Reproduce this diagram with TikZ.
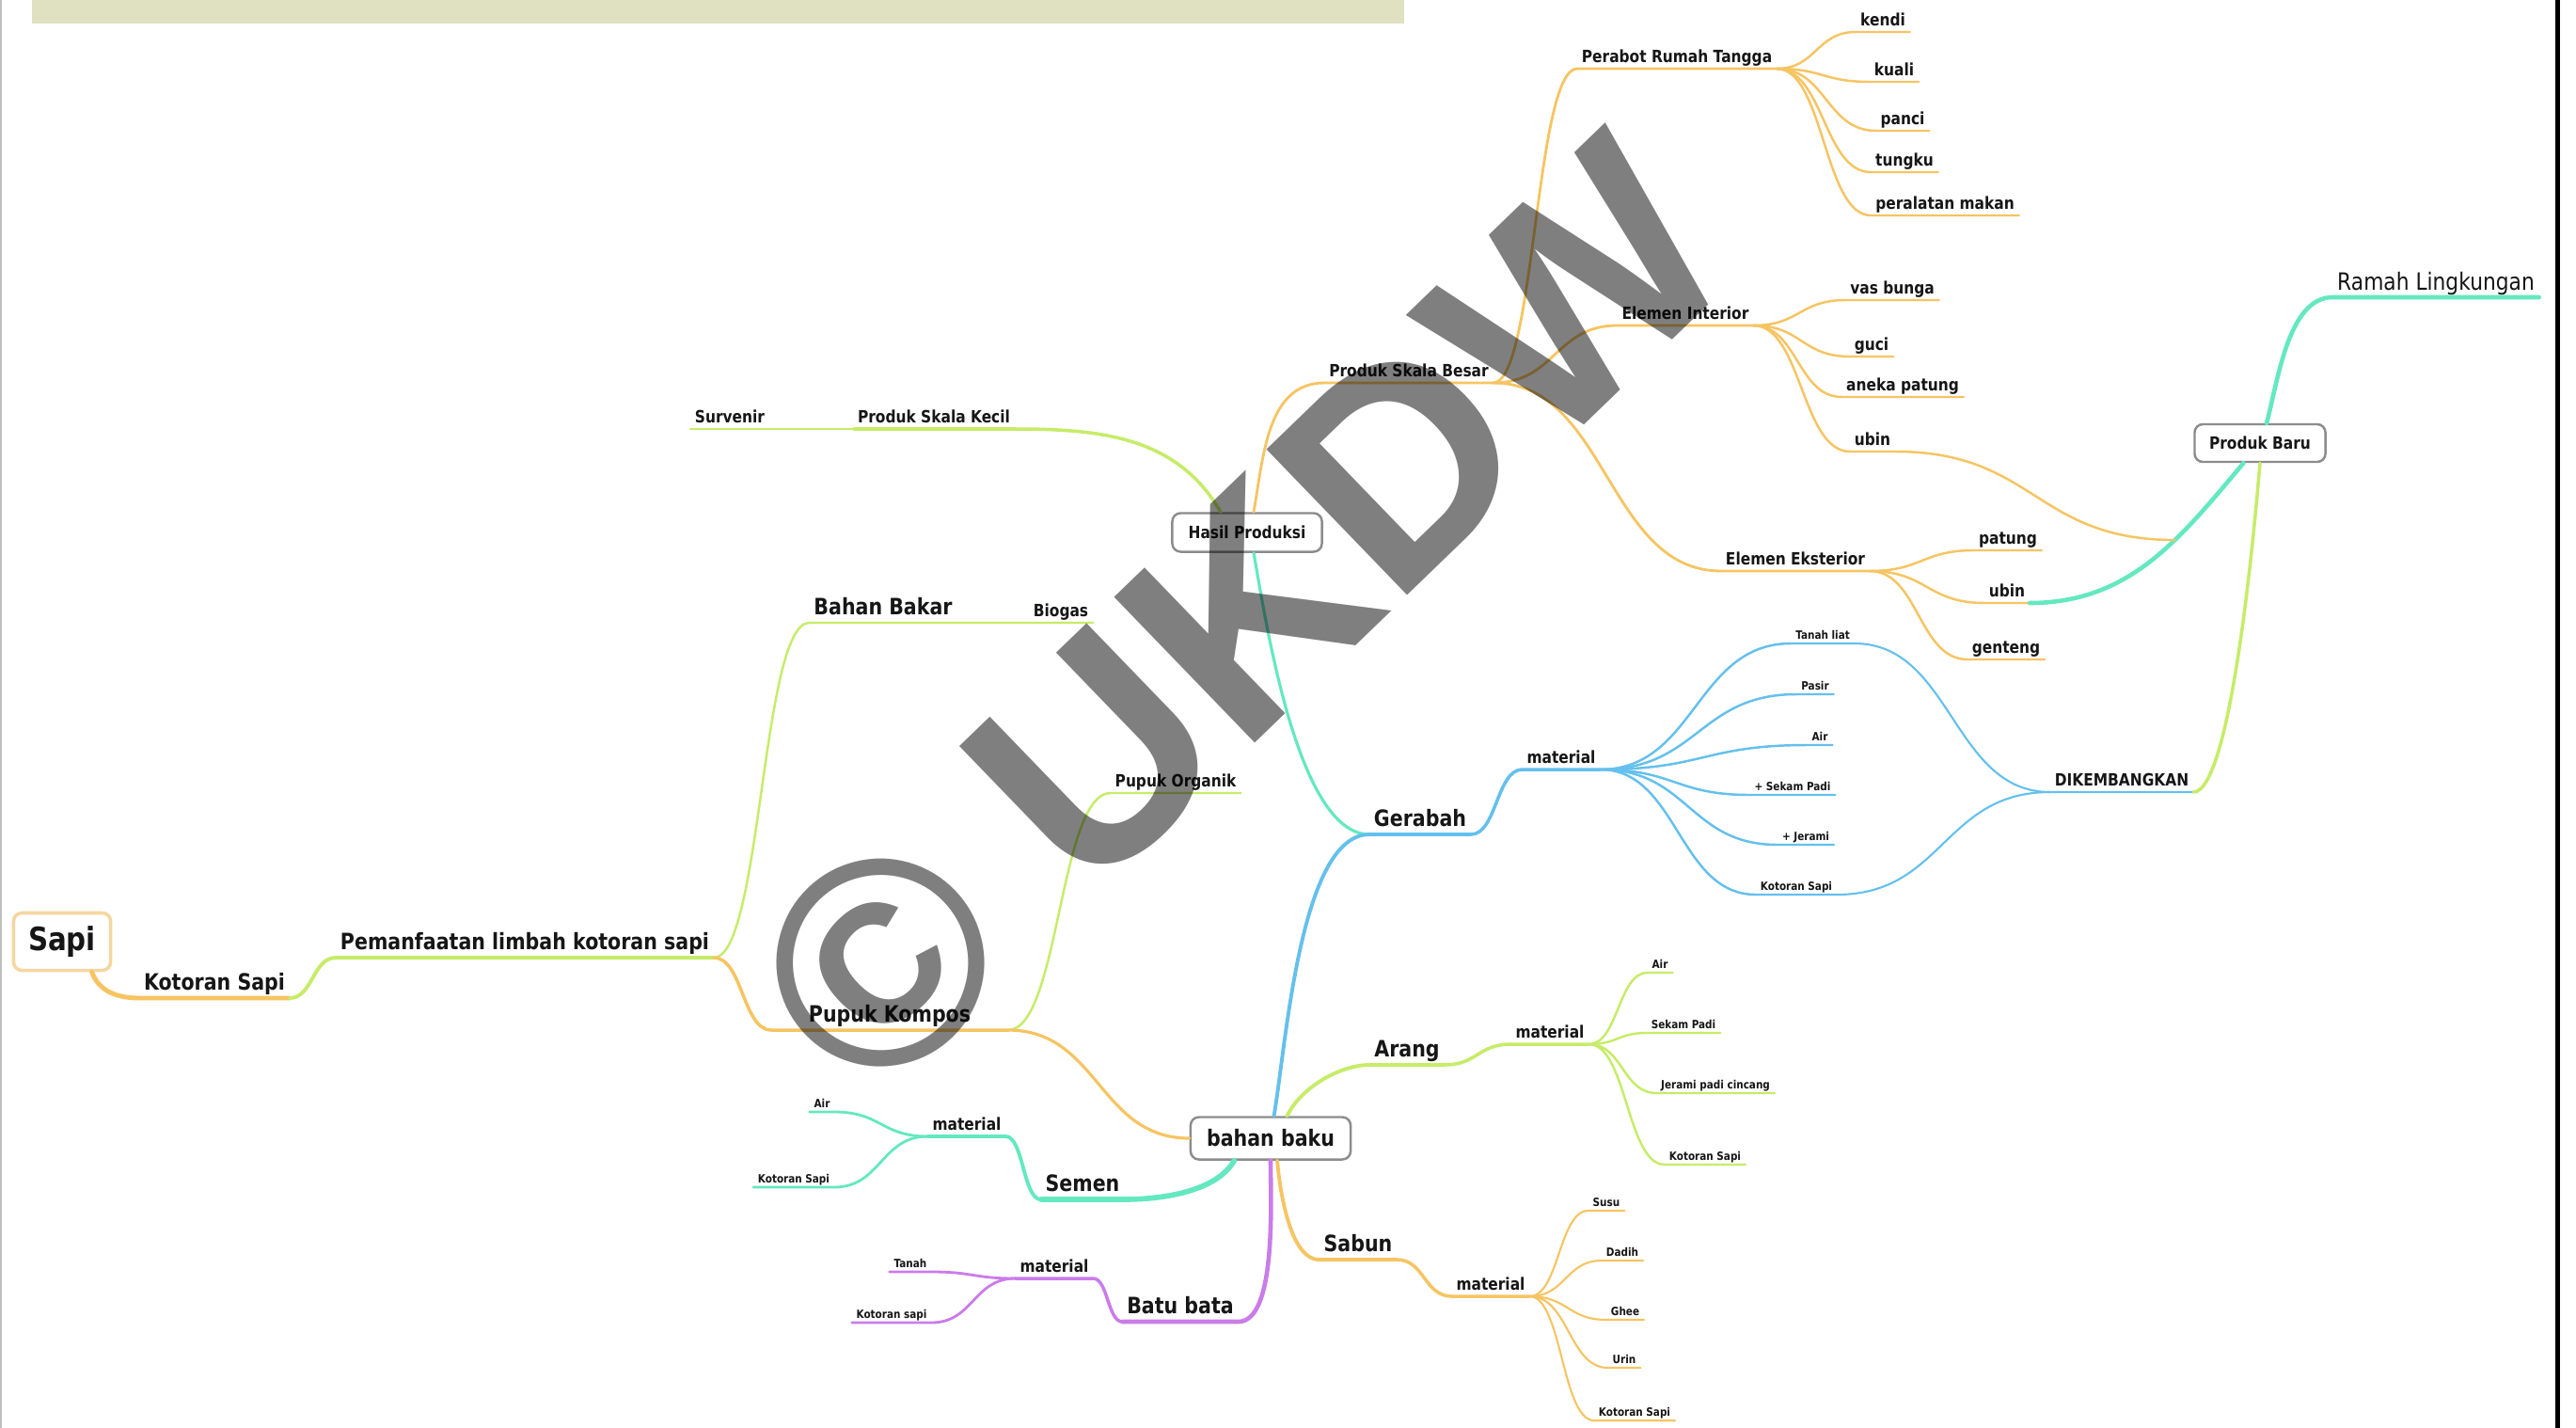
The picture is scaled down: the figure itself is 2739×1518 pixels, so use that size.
\documentclass[tikz,border=0pt]{standalone}
\usepackage{fontspec}
\newfontfamily\mmfont{DejaVu Sans}[FakeStretch=0.86]
\newfontfamily\wmfont{Liberation Sans}
\usetikzlibrary{calc}

\definecolor{oranyeC}{RGB}{246,196,98}
\definecolor{hijauC}{RGB}{198,236,104}
\definecolor{toscaC}{RGB}{100,232,192}
\definecolor{biruC}{RGB}{100,192,236}
\definecolor{unguC}{RGB}{202,124,234}
\definecolor{kotakC}{RGB}{140,140,140}
\definecolor{sapiC}{RGB}{246,214,160}
\definecolor{pitaC}{RGB}{224,225,193}
\definecolor{tulisanC}{RGB}{22,22,22}

\newcommand\fsapi{\mmfont\bfseries\fontsize{9.7}{11}\selectfont}
\newcommand\fbesar{\mmfont\bfseries\fontsize{6.8}{8}\selectfont}
\newcommand\fsedang{\mmfont\bfseries\fontsize{5.1}{6}\selectfont}
\newcommand\fkecil{\mmfont\bfseries\fontsize{3.45}{4}\selectfont}

\tikzset{
  topik/.style={anchor=south, inner xsep=1.2pt, inner ysep=0.4pt, text=tulisanC},
  besar/.style={topik, font=\fbesar, text height=5.2pt, text depth=1.7pt},
  sedang/.style={topik, font=\fsedang, text height=3.9pt, text depth=1.2pt},
  kecil/.style={topik, font=\fkecil, text height=2.6pt, text depth=0.7pt},
  ramah/.style={topik, font=\mmfont\fontsize{7.2}{8.5}\selectfont, text height=5.4pt, text depth=1.6pt},
  kotak/.style={draw=kotakC, fill=white, line width=0.7pt, rounded corners=2.5pt, inner sep=0pt, text=tulisanC},
  oranye/.style={draw=oranyeC, line width=#1, line cap=round}, oranye/.default=0.8pt,
  hijau/.style={draw=hijauC, line width=#1, line cap=round}, hijau/.default=0.8pt,
  tosca/.style={draw=toscaC, line width=#1, line cap=round}, tosca/.default=0.8pt,
  biru/.style={draw=biruC, line width=#1, line cap=round}, biru/.default=0.8pt,
  ungu/.style={draw=unguC, line width=#1, line cap=round}, ungu/.default=0.8pt,
  hs/.style={to path={let \p1=(\tikztostart), \p2=(\tikztotarget) in
    .. controls ({0.5*\x1+0.5*\x2},\y1) and ({0.5*\x1+0.5*\x2},\y2) .. (\tikztotarget) \tikztonodes}},
}

\begin{document}
\begin{tikzpicture}[x=0.01cm, y=-0.01cm]
\useasboundingbox (0,0) rectangle (2739,1518);
\fill[white] (0,0) rectangle (2739,1518);
\fill[pitaC] (34,0) rectangle (1493,25);
\fill[black] (2717,0) rectangle (2722,1518);
\draw[black!25, line width=0.5pt] (1,0) -- (1,1518);

% kotak
\node[kotak, draw=sapiC, line width=1pt, minimum width=1.03cm, minimum height=0.61cm, font=\fsapi] (sapi) at (66,1001) {Sapi};
\node[kotak, minimum width=1.59cm, minimum height=0.41cm, font=\fsedang] (hasil) at (1326,566) {Hasil Produksi};
\node[kotak, minimum width=1.70cm, minimum height=0.45cm, font=\fbesar] (bahan) at (1351,1210) {bahan baku};
\node[kotak, minimum width=1.39cm, minimum height=0.40cm, font=\fsedang] (baru) at (2403,471) {Produk Baru};

% topik
\node[besar] (kotoran) at (228,1061) {Kotoran Sapi};
\node[besar] (manfaat) at (558,1018) {Pemanfaatan limbah kotoran sapi};
\node[besar] (bakar) at (939,662) {Bahan Bakar};
\node[sedang] (biogas) at (1128,662) {Biogas};
\node[besar, minimum width=2.5cm] (kompos) at (946,1095) {Pupuk Kompos};
\node[sedang] (organik) at (1250,843) {Pupuk Organik};
\node[sedang] (kecilp) at (993,456) {Produk Skala Kecil};
\node[sedang] (survenir) at (776,456) {Survenir};
\node[sedang] (besarp) at (1498,407) {Produk Skala Besar};
\node[sedang] (perabot) at (1783,73) {Perabot Rumah Tangga};
\node[sedang] (kendi) at (2002,34) {kendi};
\node[sedang] (kuali) at (2014,87) {kuali};
\node[sedang] (panci) at (2023,139) {panci};
\node[sedang] (tungku) at (2025,183) {tungku};
\node[sedang] (alatmakan) at (2068,229) {peralatan makan};
\node[sedang] (interior) at (1792,346) {Elemen Interior};
\node[sedang] (vas) at (2012,319) {vas bunga};
\node[sedang] (guci) at (1990,379) {guci};
\node[sedang] (anekapatung) at (2023,422) {aneka patung};
\node[sedang] (ubindalam) at (1991,480) {ubin};
\node[sedang] (eksterior) at (1909,607) {Elemen Eksterior};
\node[sedang] (patung) at (2135,585) {patung};
\node[sedang] (ubinluar) at (2134,641) {ubin};
\node[sedang] (genteng) at (2133,701) {genteng};
\node[besar] (gerabah) at (1510,887) {Gerabah};
\node[sedang] (matgerabah) at (1660,818) {material};
\node[kecil] (tanahliat) at (1938,684) {Tanah liat};
\node[kecil] (pasir) at (1930,738) {Pasir};
\node[kecil] (airg) at (1935,792) {Air};
\node[kecil] (sekamg) at (1906,845) {+ Sekam Padi};
\node[kecil] (jeramig) at (1920,898) {+ Jerami};
\node[kecil] (kotorang) at (1910,951) {Kotoran Sapi};
\node[sedang] (kembang) at (2256,842) {DIKEMBANGKAN};
\node[ramah] (lingkungan) at (2590,316) {Ramah Lingkungan};
\node[besar] (arang) at (1496,1132) {Arang};
\node[sedang] (matarang) at (1648,1110) {material};
\node[kecil] (aira) at (1765,1034) {Air};
\node[kecil] (sekama) at (1790,1098) {Sekam Padi};
\node[kecil] (jeramia) at (1824,1162) {Jerami padi cincang};
\node[kecil] (kotorana) at (1813,1238) {Kotoran Sapi};
\node[besar] (semen) at (1151,1275) {Semen};
\node[sedang] (matsemen) at (1028,1208) {material};
\node[kecil] (airs) at (874,1182) {Air};
\node[kecil] (kotorans) at (844,1262) {Kotoran Sapi};
\node[besar] (bata) at (1255,1405) {Batu bata};
\node[sedang] (matbata) at (1121,1359) {material};
\node[kecil] (tanah) at (968,1352) {Tanah};
\node[kecil] (kotoranb) at (948,1406) {Kotoran sapi};
\node[besar] (sabun) at (1444,1339) {Sabun};
\node[sedang] (matsabun) at (1585,1378) {material};
\node[kecil] (susu) at (1708,1287) {Susu};
\node[kecil] (dadih) at (1725,1340) {Dadih};
\node[kecil] (ghee) at (1728,1403) {Ghee};
\node[kecil] (urin) at (1727,1454) {Urin};
\node[kecil] (kotoransb) at (1738,1510) {Kotoran Sapi};

% cabang dari Sapi
\draw[oranye=1.4pt] ([xshift=9pt]sapi.south) to[out=-70,in=180] (kotoran.south west) -- (kotoran.south east);
\draw[hijau=1.1pt] (kotoran.south east) to[hs] (manfaat.south west) -- (manfaat.south east);
\draw[hijau=0.7pt] (manfaat.south east) to[hs] (bakar.south west) -- (bakar.south east) -- (biogas.south west) -- (biogas.south east);
\draw[oranye=1pt] (manfaat.south east) to[hs] (kompos.south west) -- (kompos.south east);
\draw[hijau=0.7pt] (kompos.south east) to[hs] (organik.south west) -- (organik.south east);
\draw[oranye=0.9pt] (kompos.south east) to[hs] (bahan.west);

% Hasil Produksi
\draw[hijau=1pt] ([xshift=-8pt]hasil.north) to[out=120,in=0] (kecilp.south east) -- (kecilp.south west);
\draw[hijau=0.8pt] (kecilp.south west) -- (survenir.south east) -- (survenir.south west);
\draw[oranye=0.8pt] ([xshift=2pt]hasil.north) to[out=80,in=180] (besarp.south west) -- (besarp.south east);
\draw[tosca=0.9pt] ([xshift=2pt]hasil.south) to[out=-80,in=180,looseness=0.6] (gerabah.south west);
\draw[oranye=0.8pt] (besarp.south east) to[hs] (perabot.south west) -- (perabot.south east);
\draw[oranye=0.8pt] (besarp.south east) to[hs] (interior.south west) -- (interior.south east);
\draw[oranye=0.8pt] (besarp.south east) to[hs] (eksterior.south west) -- (eksterior.south east);
\draw[oranye=0.7pt] (perabot.south east) to[hs] (kendi.south west) -- (kendi.south east);
\draw[oranye=0.7pt] (perabot.south east) to[hs] (kuali.south west) -- (kuali.south east);
\draw[oranye=0.7pt] (perabot.south east) to[hs] (panci.south west) -- (panci.south east);
\draw[oranye=0.7pt] (perabot.south east) to[hs] (tungku.south west) -- (tungku.south east);
\draw[oranye=0.7pt] (perabot.south east) to[hs] (alatmakan.south west) -- (alatmakan.south east);
\draw[oranye=0.7pt] (interior.south east) to[hs] (vas.south west) -- (vas.south east);
\draw[oranye=0.7pt] (interior.south east) to[hs] (guci.south west) -- (guci.south east);
\draw[oranye=0.7pt] (interior.south east) to[hs] (anekapatung.south west) -- (anekapatung.south east);
\draw[oranye=0.7pt] (interior.south east) to[hs] (ubindalam.south west) -- (ubindalam.south east);
\draw[oranye=0.7pt] (eksterior.south east) to[hs] (patung.south west) -- (patung.south east);
\draw[oranye=0.7pt] (eksterior.south east) to[hs] (ubinluar.south west) -- (ubinluar.south east);
\draw[oranye=0.7pt] (eksterior.south east) to[hs] (genteng.south west) -- (genteng.south east);

% Produk Baru
\draw[tosca=1.3pt] ([xshift=2pt]baru.north) to[out=75,in=180,looseness=0.8] (lingkungan.south west) -- (lingkungan.south east);
\draw[tosca=1.3pt] ([xshift=-5pt]baru.south) to[out=-130,in=0] coordinate[pos=0.37] (temu) (ubinluar.south east);
\draw[oranye=0.7pt] (ubindalam.south east) to[hs] (temu);

% bahan baku
\draw[biru=1.1pt] ([xshift=1pt]bahan.north) to[out=80,in=180,looseness=0.6] (gerabah.south west) -- (gerabah.south east);
\draw[biru=1pt] (gerabah.south east) to[hs] (matgerabah.south west) -- (matgerabah.south east);
\draw[biru=0.7pt] (matgerabah.south east) to[hs] (tanahliat.south west) -- (tanahliat.south east);
\draw[biru=0.7pt] (matgerabah.south east) to[hs] (pasir.south west) -- (pasir.south east);
\draw[biru=0.7pt] (matgerabah.south east) to[hs] (airg.south west) -- (airg.south east);
\draw[biru=0.7pt] (matgerabah.south east) to[hs] (sekamg.south west) -- (sekamg.south east);
\draw[biru=0.7pt] (matgerabah.south east) to[hs] (jeramig.south west) -- (jeramig.south east);
\draw[biru=0.7pt] (matgerabah.south east) to[hs] (kotorang.south west) -- (kotorang.south east);
\draw[biru=0.6pt] (tanahliat.south east) to[hs] (kembang.south west) -- (kembang.south east);
\draw[biru=0.6pt] (kotorang.south east) to[hs] (kembang.south west);
\draw[hijau=1pt] (kembang.south east) to[out=0,in=-95,looseness=0.3] (baru.south);

\draw[hijau=1.1pt] ([xshift=5pt]bahan.north) to[out=65,in=180,looseness=0.8] (arang.south west) -- (arang.south east);
\draw[hijau=1pt] (arang.south east) to[hs] (matarang.south west) -- (matarang.south east);
\draw[hijau=0.7pt] (matarang.south east) to[hs] (aira.south west) -- (aira.south east);
\draw[hijau=0.7pt] (matarang.south east) to[hs] (sekama.south west) -- (sekama.south east);
\draw[hijau=0.7pt] (matarang.south east) to[hs] (jeramia.south west) -- (jeramia.south east);
\draw[hijau=0.7pt] (matarang.south east) to[hs] (kotorana.south west) -- (kotorana.south east);

\draw[tosca=1.6pt] ([xshift=-11pt]bahan.south) to[out=-120,in=0,looseness=0.8] (semen.south east) -- (semen.south west);
\draw[tosca=1.1pt] (semen.south west) to[hs] (matsemen.south east) -- (matsemen.south west);
\draw[tosca=0.8pt] (matsemen.south west) to[hs] (airs.south east) -- (airs.south west);
\draw[tosca=0.8pt] (matsemen.south west) to[hs] (kotorans.south east) -- (kotorans.south west);

\draw[ungu=1.3pt] (bahan.south) to[out=-90,in=0,looseness=0.6] (bata.south east) -- (bata.south west);
\draw[ungu=1pt] (bata.south west) to[hs] (matbata.south east) -- (matbata.south west);
\draw[ungu=0.8pt] (matbata.south west) to[hs] (tanah.south east) -- (tanah.south west);
\draw[ungu=0.8pt] (matbata.south west) to[hs] (kotoranb.south east) -- (kotoranb.south west);

\draw[oranye=1.1pt] ([xshift=2pt]bahan.south) to[out=-85,in=180,looseness=0.7] (sabun.south west) -- (sabun.south east);
\draw[oranye=1pt] (sabun.south east) to[hs] (matsabun.south west) -- (matsabun.south east);
\draw[oranye=0.6pt] (matsabun.south east) to[hs] (susu.south west) -- (susu.south east);
\draw[oranye=0.6pt] (matsabun.south east) to[hs] (dadih.south west) -- (dadih.south east);
\draw[oranye=0.6pt] (matsabun.south east) to[hs] (ghee.south west) -- (ghee.south east);
\draw[oranye=0.6pt] (matsabun.south east) to[hs] (urin.south west) -- (urin.south east);
\draw[oranye=0.6pt] (matsabun.south east) to[hs] (kotoransb.south west) -- (kotoransb.south east);

% tanda air
\node[rotate=44, text=black, text opacity=0.5, inner sep=0pt, font=\wmfont\bfseries\fontsize{89}{89}\selectfont] (ukdw) at (1318,656) {© UKDW};
\end{tikzpicture}
\end{document}
